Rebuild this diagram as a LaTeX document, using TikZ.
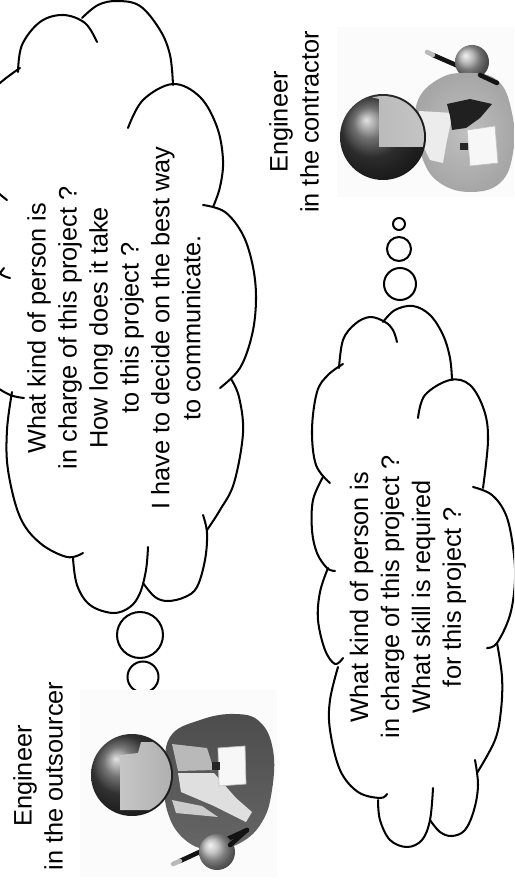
\documentclass[tikz,border=0pt]{standalone}
\usepackage{fontspec}
\setmainfont{Liberation Sans}
\begin{document}
\begin{tikzpicture}[x=0.02cm,y=-0.02cm,
  cloudline/.style={draw=black,line width=1.15pt,line cap=round},
  bubble/.style={draw=black,line width=1.15pt},
  thought/.style={rotate=90,align=center,inner sep=0pt,
    font=\fontsize{14.4}{17.6}\selectfont},
  backdrop/.style={fill=gray!3},
  pencil/.style={line width=2.6pt,draw=gray!15!black,line cap=round},
  pencilTip/.style={line width=2.6pt,draw=gray!55,line cap=round}
]
\useasboundingbox (0,0) rectangle (514,888);
\clip (0,0) rectangle (514,888);

% ---------------- upper thought cloud (outsourcer) ----------------
\begin{scope}[cloudline]
  \draw plot[smooth,tension=0.6] coordinates {(18,72) (22,45) (40,22) (63,15) (85,23) (97,42)};
  \draw plot[smooth,tension=0.6] coordinates {(82,18) (98,5) (117,1) (140,6) (160,30) (170,55) (173,85)};
  \draw plot[smooth,tension=0.6] coordinates {(128,128) (143,100) (173,84) (200,97) (217,127) (223,160) (220,187) (213,207)};
  \draw plot[smooth,tension=0.6] coordinates {(203,205) (225,212) (243,235) (253,267) (256,300) (252,335) (240,368) (220,388)};
  \draw plot[smooth,tension=0.6] coordinates {(231,379) (239,397) (243,433) (234,483) (220,510) (207,530)};
  \draw plot[smooth,tension=0.6] coordinates {(143,583) (155,597) (168,601) (185,597) (197,587) (205,560) (207,533) (203,515)};
  \draw plot[smooth,tension=0.6] coordinates {(73,558) (77,585) (90,605) (113,613) (130,607) (140,593) (146,570) (148,547)};
  \draw plot[smooth,tension=0.6] coordinates {(12,392) (7,430) (8,470) (20,517) (40,543) (67,557) (83,553)};
  \draw plot[smooth,tension=0.6] coordinates {(4,268) (-12,295) (-18,340) (-8,380) (8,394) (24,398)};
  \draw plot[smooth,tension=0.6] coordinates {(-5,188) (-20,215) (-18,250) (-2,272) (10,278)};
  \draw plot[smooth,tension=0.6] coordinates {(7,200) (-12,180) (-22,140) (-15,100) (0,83) (20,68)};
\end{scope}
\draw[bubble] (140,635) circle[radius=23];
\draw[bubble] (143,677) circle[radius=15.5];
\draw[bubble] (144,704) circle[radius=8];

\node[thought] (upperText) at (114,328)
  {What kind of person is\\in charge of this project ?\\How long does it take\\to this project ?\\I have to decide on the best way\\to communicate.};

% ---------------- lower thought cloud (contractor) ----------------
\begin{scope}[cloudline]
  \draw plot[smooth,tension=0.6] coordinates {(339,368) (343,340) (355,324) (370,317) (385,322) (393,330) (397,342)};
  \draw plot[smooth,tension=0.6] coordinates {(383,322) (395,310) (413,306) (430,315) (443,335) (450,358) (452,380)};
  \draw plot[smooth,tension=0.6] coordinates {(418,418) (425,395) (450,380) (470,385) (484,410) (488,440) (483,488)};
  \draw plot[smooth,tension=0.6] coordinates {(473,487) (492,495) (506,515) (513,547) (515,580) (510,615) (497,643) (487,648)};
  \draw plot[smooth,tension=0.6] coordinates {(497,643) (502,677) (501,710) (495,740) (477,773)};
  \draw plot[smooth,tension=0.6] coordinates {(430,820) (440,832) (452,836) (465,830) (474,810) (478,785) (475,760)};
  \draw plot[smooth,tension=0.6] coordinates {(378,800) (380,820) (390,840) (407,847) (422,840) (430,820) (433,788)};
  \draw plot[smooth,tension=0.6] coordinates {(338,667) (330,700) (330,730) (340,770) (358,792) (380,798) (387,794)};
  \draw plot[smooth,tension=0.6] coordinates {(328,568) (320,592) (318,620) (325,650) (335,664) (343,658)};
  \draw plot[smooth,tension=0.6] coordinates {(323,477) (313,500) (312,530) (317,553) (327,568) (335,571)};
  \draw plot[smooth,tension=0.6] coordinates {(343,364) (328,375) (317,392) (312,430) (316,465) (330,483)};
\end{scope}
\draw[bubble] (399,224) circle[radius=6];
\draw[bubble] (399,249) circle[radius=12];
\draw[bubble] (400,284) circle[radius=16];

\node[thought] (lowerText) at (408,597)
  {What kind of person is\\in charge of this project ?\\What skill is required\\for this project ?};

% ---------------- engineer of the outsourcer ----------------
\fill[backdrop] (80,690) rectangle (277,877);
% body
\shade[top color=gray!60!black,bottom color=gray!80!black]
  plot[smooth cycle,tension=0.7] coordinates {(170,737) (200,720) (235,714) (260,722) (273,750) (272,790) (262,822) (240,843) (210,850) (183,838) (167,810) (165,775)};
\fill[gray!55] (172,744) -- (207,748) -- (214,770) -- (178,771) -- cycle;
\fill[gray!25] (178,773) -- (214,773) -- (236,798) -- (252,812) -- (246,822) -- (214,806) -- (181,792) -- cycle;
\fill[gray!40] (172,800) -- (202,806) -- (218,817) -- (176,813) -- cycle;
\fill[gray!6,draw=gray!50] (218,748) -- (245,746) -- (246,784) -- (219,786) -- cycle;
\fill[black!85] (212,762) rectangle (220,770);
% head
\shade[ball color=gray!55!black] (132,775) circle[radius=41];
\begin{scope}
  \clip (132,775) circle[radius=39];
  \shade[left color=gray!45,right color=gray!65]
    (120,755) -- (138,753) -- (141,742) -- (180,742) -- (180,810) -- (120,810) -- cycle;
\end{scope}
% hand and pencil
\draw[pencil] (180,861) -- (247,830);
\draw[pencilTip] (173,864) -- (180,861);
\shade[ball color=gray!60] (217,852) circle[radius=18];
\draw[pencil] (230,845) -- (247,830);

\node[thought] (outLabel) at (38,776) {Engineer\\in the outsourcer};

% ---------------- engineer of the contractor ----------------
\fill[backdrop] (337,27) rectangle (514,197);
% pencil and hand behind the body
\draw[pencil] (433,55) -- (497,83);
\draw[pencilTip] (427,52) -- (433,55);
\shade[ball color=gray!70] (472,62) circle[radius=17];
% body
\shade[inner color=gray!50,outer color=gray!70]
  plot[smooth cycle,tension=0.7] coordinates {(418,100) (437,80) (463,73) (497,80) (512,113) (513,153) (500,183) (470,192) (440,183) (423,160) (417,127)};
\fill[gray!15] (419,111) -- (453,113) -- (447,140) -- (443,163) -- (430,160) -- (420,140) -- cycle;
\fill[gray!25!black] (447,104) -- (470,99) -- (492,104) -- (480,118) -- (466,128) -- (452,130) -- (450,116) -- cycle;
\fill[gray!6,draw=gray!50] (467,130) -- (495,126) -- (498,163) -- (470,166) -- cycle;
\fill[black!85] (460,143) rectangle (468,150);
\draw[pencil] (480,75) -- (497,83);
% head
\shade[ball color=gray!50!black] (383,137) circle[radius=43];
\begin{scope}
  \clip (383,137) circle[radius=41];
  \shade[left color=gray!55,right color=gray!45]
    (370,97) -- (379,99) -- (379,147) -- (430,147) -- (430,85) -- (370,85) -- cycle;
\end{scope}

\node[thought] (conLabel) at (294,122) {Engineer\\in the contractor};
\end{tikzpicture}
\end{document}
